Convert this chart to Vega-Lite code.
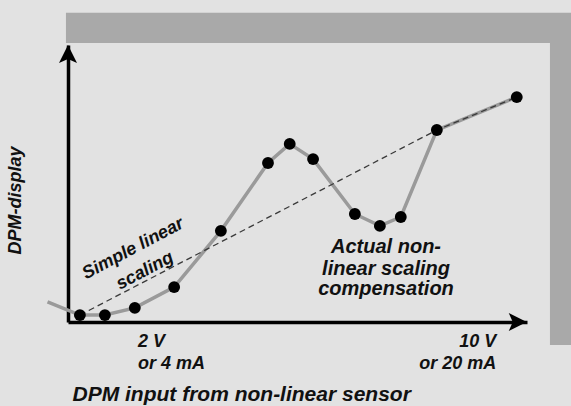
{
  "$schema": "https://vega.github.io/schema/vega-lite/v6.json",
  "width": 459,
  "height": 277,
  "autosize": {"type": "none"},
  "padding": {"left": 68, "top": 45, "right": 44, "bottom": 84},
  "background": "#e2e2e2",
  "config": {
    "view": {"stroke": null},
    "font": "Liberation Sans",
    "text": {"font": "Liberation Sans", "fontWeight": "bold", "fontStyle": "italic", "color": "#111111"}
  },
  "datasets": {
    "frame": [
      {"x": -0.05, "x2": 12.3, "y": 100.7, "y2": 111.6},
      {"x": 11.76, "x2": 12.3, "y": -8.3, "y2": 100.7}
    ],
    "curve": [
      {"x": -0.5, "y": 7.3},
      {"x": 0.29, "y": 2.5},
      {"x": 0.9, "y": 2.5},
      {"x": 1.63, "y": 5.1},
      {"x": 2.59, "y": 12.6},
      {"x": 3.73, "y": 32.9},
      {"x": 4.88, "y": 57.4},
      {"x": 5.41, "y": 64.3},
      {"x": 5.98, "y": 58.8},
      {"x": 7.0, "y": 39.0},
      {"x": 7.61, "y": 34.7},
      {"x": 8.12, "y": 37.9},
      {"x": 9.0, "y": 69.3},
      {"x": 10.95, "y": 81.2}
    ],
    "points": [
      {"x": 0.29, "y": 2.5},
      {"x": 0.9, "y": 2.5},
      {"x": 1.63, "y": 5.1},
      {"x": 2.59, "y": 12.6},
      {"x": 3.73, "y": 32.9},
      {"x": 4.88, "y": 57.4},
      {"x": 5.41, "y": 64.3},
      {"x": 5.98, "y": 58.8},
      {"x": 7.0, "y": 39.0},
      {"x": 7.61, "y": 34.7},
      {"x": 8.12, "y": 37.9},
      {"x": 9.0, "y": 69.3},
      {"x": 10.95, "y": 81.2}
    ],
    "linear": [
      {"x": 0.29, "y": 2.5},
      {"x": 9.0, "y": 69.3},
      {"x": 10.95, "y": 81.2}
    ],
    "yarrow": [{"x": 0, "y": 96.4}],
    "xarrow": [{"x": 10.95, "y": 0}],
    "slanted": [
      {"label": "Simple linear", "x": 1.59, "y": 26.4},
      {"label": "scaling", "x": 1.88, "y": 18.4}
    ],
    "centered": [
      {"label": "Actual non-", "x": 7.76, "y": 24.9},
      {"label": "linear scaling", "x": 7.76, "y": 17.0},
      {"label": "compensation", "x": 7.76, "y": 9.7}
    ],
    "leftticks": [
      {"label": "2 V", "x": 1.71, "y": -9.0},
      {"label": "or 4 mA", "x": 1.71, "y": -17.0}
    ],
    "rightticks": [
      {"label": "10 V", "x": 10.45, "y": -9.0},
      {"label": "or 20 mA", "x": 10.45, "y": -17.0}
    ]
  },
  "layer": [
    {
      "data": {"name": "frame"},
      "mark": {"type": "rect", "color": "#a9a9a9"},
      "encoding": {
        "x": {
          "field": "x", "type": "quantitative",
          "scale": {"domain": [0, 11.2], "nice": false, "zero": false},
          "axis": {
            "domain": true, "domainColor": "#000000", "domainWidth": 3.5,
            "ticks": false, "labels": false, "grid": false,
            "title": "DPM input from non-linear sensor",
            "titleFont": "Liberation Sans", "titleFontSize": 21, "titleFontWeight": "bold", "titleFontStyle": "italic",
            "titleColor": "#111111", "titleAlign": "left", "titleAnchor": "start", "titleBaseline": "alphabetic",
            "titleX": 4, "titleY": 78
          }
        },
        "x2": {"field": "x2"},
        "y": {
          "field": "y", "type": "quantitative",
          "scale": {"domain": [0, 100], "nice": false, "zero": false},
          "axis": {
            "domain": true, "domainColor": "#000000", "domainWidth": 3.5,
            "ticks": false, "labels": false, "grid": false,
            "title": "DPM-display",
            "titleFont": "Liberation Sans", "titleFontSize": 18, "titleFontWeight": "bold", "titleFontStyle": "italic",
            "titleColor": "#111111", "titleAngle": -90, "titleAlign": "center", "titleBaseline": "middle",
            "titleX": -53, "titleY": 155
          }
        },
        "y2": {"field": "y2"}
      }
    },
    {
      "data": {"name": "curve"},
      "mark": {"type": "line", "color": "#9a9a9a", "strokeWidth": 3.5},
      "encoding": {
        "x": {"field": "x", "type": "quantitative"},
        "y": {"field": "y", "type": "quantitative"},
        "order": {"field": "x", "type": "quantitative"}
      }
    },
    {
      "data": {"name": "linear"},
      "mark": {"type": "line", "color": "#3a3a3a", "strokeWidth": 1.3, "strokeDash": [6, 4]},
      "encoding": {
        "x": {"field": "x", "type": "quantitative"},
        "y": {"field": "y", "type": "quantitative"}
      }
    },
    {
      "data": {"name": "points"},
      "mark": {"type": "point", "filled": true, "shape": "circle", "color": "#000000", "opacity": 1, "size": 140},
      "encoding": {
        "x": {"field": "x", "type": "quantitative"},
        "y": {"field": "y", "type": "quantitative"}
      }
    },
    {
      "data": {"name": "yarrow"},
      "mark": {"type": "point", "filled": true, "opacity": 1, "color": "#000000", "size": 400, "shape": "M0,-1 L0.9,0.8 L0,0.4 L-0.9,0.8 Z"},
      "encoding": {
        "x": {"field": "x", "type": "quantitative"},
        "y": {"field": "y", "type": "quantitative"}
      }
    },
    {
      "data": {"name": "xarrow"},
      "mark": {"type": "point", "filled": true, "opacity": 1, "color": "#000000", "size": 400, "angle": 90, "shape": "M0,-1 L0.9,0.8 L0,0.4 L-0.9,0.8 Z"},
      "encoding": {
        "x": {"field": "x", "type": "quantitative"},
        "y": {"field": "y", "type": "quantitative"}
      }
    },
    {
      "data": {"name": "slanted"},
      "mark": {"type": "text", "fontSize": 18, "angle": -28, "align": "center", "baseline": "middle"},
      "encoding": {
        "x": {"field": "x", "type": "quantitative"},
        "y": {"field": "y", "type": "quantitative"},
        "text": {"field": "label"}
      }
    },
    {
      "data": {"name": "centered"},
      "mark": {"type": "text", "fontSize": 20, "align": "center", "baseline": "alphabetic"},
      "encoding": {
        "x": {"field": "x", "type": "quantitative"},
        "y": {"field": "y", "type": "quantitative"},
        "text": {"field": "label"}
      }
    },
    {
      "data": {"name": "leftticks"},
      "mark": {"type": "text", "fontSize": 18, "align": "left", "baseline": "alphabetic"},
      "encoding": {
        "x": {"field": "x", "type": "quantitative"},
        "y": {"field": "y", "type": "quantitative"},
        "text": {"field": "label"}
      }
    },
    {
      "data": {"name": "rightticks"},
      "mark": {"type": "text", "fontSize": 18, "align": "right", "baseline": "alphabetic"},
      "encoding": {
        "x": {"field": "x", "type": "quantitative"},
        "y": {"field": "y", "type": "quantitative"},
        "text": {"field": "label"}
      }
    }
  ]
}
